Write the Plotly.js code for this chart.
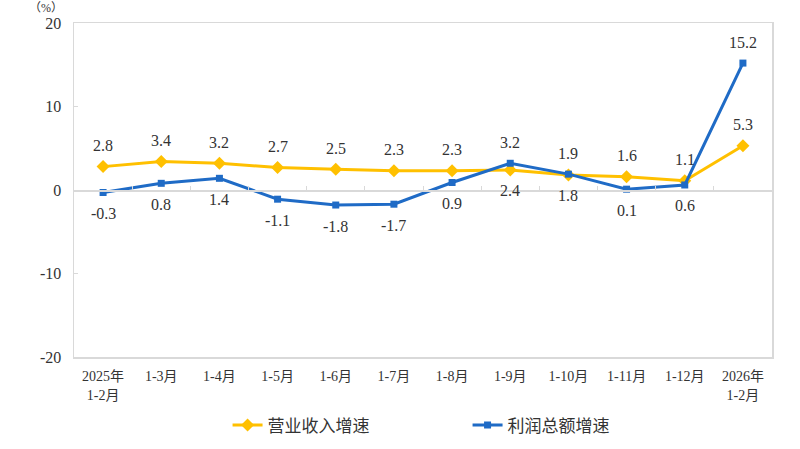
<!DOCTYPE html>
<html>
<head>
<meta charset="utf-8">
<script src="https://cdn.plot.ly/plotly-3.0.1.min.js"></script>
<style>html,body{margin:0;padding:0;background:#fff;}#chart{width:800px;height:449px;}</style>
</head>
<body>
<div id="chart"></div>
<script>
const categories = ["2025年<br>1-2月","1-3月","1-4月","1-5月","1-6月","1-7月","1-8月","1-9月","1-10月","1-11月","1-12月","2026年<br>1-2月"];
const revenueName = "营业收入增速";
const profitName = "利润总额增速";
const revenueGrowth = [2.8, 3.4, 3.2, 2.7, 2.5, 2.3, 2.3, 2.4, 1.8, 1.6, 1.1, 5.3];
const profitGrowth = [-0.3, 0.8, 1.4, -1.1, -1.8, -1.7, 0.9, 3.2, 1.9, 0.1, 0.6, 15.2];
const yTickVals = [-20, -10, 0, 10, 20];
const yTickText = ["-20", "-10", "0", "10", "20"];

// label side per point (style only)
const revenueSide = ["up","up","up","up","up","up","up","down","down","up","up","up"];
const profitSide = ["down","down","down","down","down","down","down","up","up","down","down","up"];

const serif = "Liberation Serif, Noto Sans CJK SC";
const YELLOW = "#FFC000";
const BLUE = "#1F6BC6";
const idx = categories.map((c, i) => i);

const traces = [
  {x: idx, y: revenueGrowth, name: revenueName, type: "scatter", mode: "lines+markers",
   line: {color: YELLOW, width: 3}, marker: {symbol: "diamond", size: 10, color: YELLOW}},
  {x: idx, y: profitGrowth, name: profitName, type: "scatter", mode: "lines+markers",
   line: {color: BLUE, width: 3}, marker: {symbol: "square", size: 7, color: BLUE}}
];

const annotations = [];
function addLabels(vals, sides) {
  vals.forEach((v, i) => {
    annotations.push({x: i, y: v, xref: "x", yref: "y", text: v.toFixed(1), showarrow: false,
      yshift: sides[i] === "up" ? 21 : -21,
      font: {family: serif, size: 16, color: "#333"}});
  });
}
addLabels(revenueGrowth, revenueSide);
addLabels(profitGrowth, profitSide);
annotations.push({xref: "paper", yref: "paper", x: -0.04, y: 1.068, text: "（%）", showarrow: false,
  xanchor: "center", yanchor: "top", borderpad: 0, font: {family: serif, size: 12, color: "#333"}});

const layout = {
  width: 800, height: 449,
  margin: {l: 74, r: 28, t: 23, b: 92, autoexpand: false},
  paper_bgcolor: "#fff", plot_bgcolor: "#fff",
  showlegend: true,
  legend: {orientation: "h", x: 0.22, xanchor: "left", y: -0.205, yanchor: "middle",
    entrywidth: 195, entrywidthmode: "pixels",
    font: {family: "Noto Sans CJK SC, sans-serif", size: 17, color: "#333"}},
  xaxis: {range: [-0.5, 11.5], tickmode: "array", tickvals: idx, ticktext: categories, automargin: false,
    showgrid: false, zeroline: false, showline: true, mirror: true, linecolor: "#d9d9d9", linewidth: 1.5,
    ticks: "", tickfont: {family: serif, size: 14, color: "#333"}, ticklabelstandoff: 6},
  xaxis2: {overlaying: "x", anchor: "free", position: 0.5, range: [-0.5, 11.5], automargin: false,
    tickmode: "array", tickvals: idx.slice(0, -1).map(i => i + 0.5), showticklabels: false,
    ticks: "inside", ticklen: 4, tickcolor: "#d9d9d9", showline: true, linecolor: "#d9d9d9", linewidth: 1.5,
    showgrid: false, zeroline: false},
  yaxis: {range: [-20, 20], tickmode: "array", tickvals: yTickVals, ticktext: yTickText, showgrid: false, zeroline: false,
    showline: true, mirror: true, linecolor: "#d9d9d9", linewidth: 1.5, automargin: false,
    ticks: "inside", ticklen: 4, tickcolor: "#d9d9d9",
    tickfont: {family: serif, size: 16, color: "#333"}, ticklabelstandoff: 8},
  annotations: annotations
};

// invisible helper trace so the zero-line axis (xaxis2) is drawn
traces.push({x: [0], y: [0], xaxis: "x2", yaxis: "y", mode: "markers", marker: {opacity: 0}, showlegend: false, hoverinfo: "skip"});

Plotly.newPlot("chart", traces, layout, {staticPlot: true});
</script>
</body>
</html>
